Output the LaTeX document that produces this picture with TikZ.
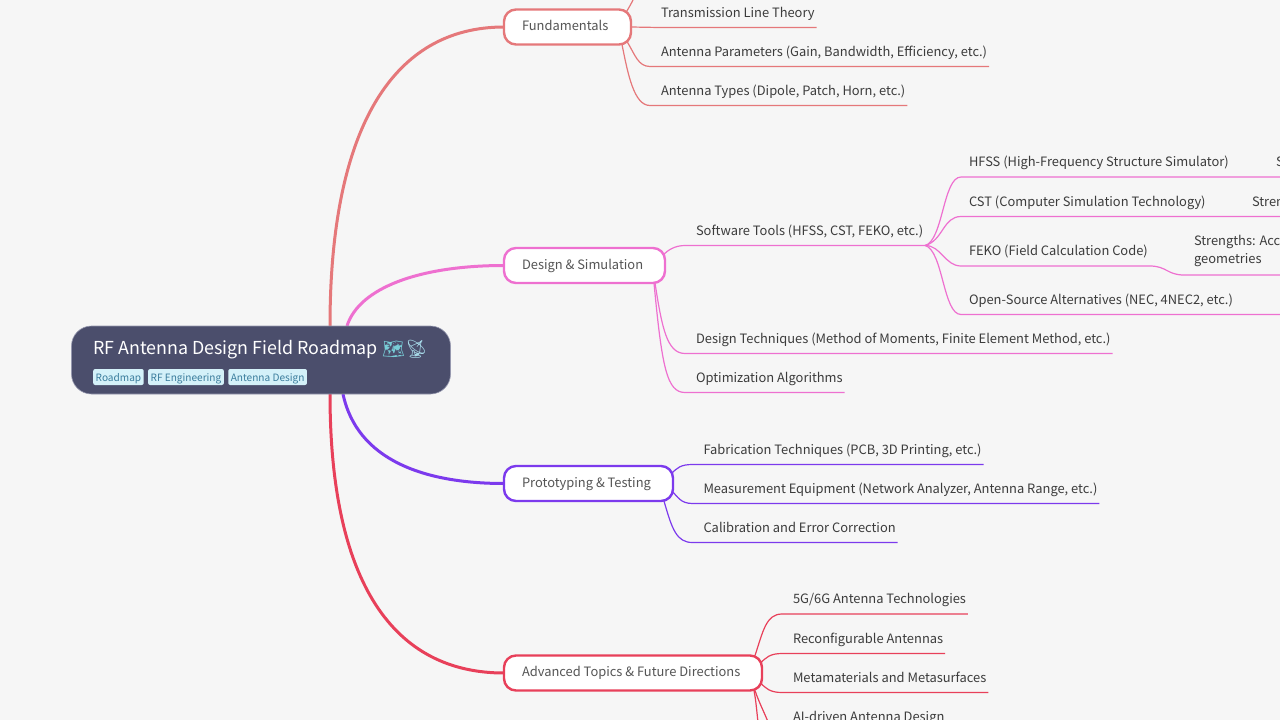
\documentclass[tikz,border=0pt]{standalone}
\usepackage{xcolor}
\usepackage{fontspec}
\setmainfont{Noto Sans CJK SC}
\newfontfamily\emojifont{Noto Emoji}
\usepackage{tikz}
\usetikzlibrary{positioning}
\definecolor{pagecolor}{RGB}{246, 246, 246}
\definecolor{rootcolor}{RGB}{75, 78, 108}
\definecolor{rootedge}{RGB}{150, 152, 175}
\definecolor{tagfill}{RGB}{212, 241, 249}
\definecolor{tagtext}{RGB}{58, 124, 156}
\definecolor{boxtext}{RGB}{85, 85, 85}
\definecolor{leaftext}{RGB}{60, 60, 60}
\definecolor{mapcolor}{RGB}{120, 205, 215}
\definecolor{dishcolor}{RGB}{165, 215, 230}
\definecolor{fundcolor}{RGB}{229, 120, 122}
\definecolor{designcolor}{RGB}{238, 112, 208}
\definecolor{protocolor}{RGB}{124, 58, 237}
\definecolor{futurecolor}{RGB}{232, 64, 90}
\pgfdeclarelayer{links}
\pgfsetlayers{links,main}
\tikzset{
    root box/.style={rectangle, rounded corners=20pt, draw=rootedge, line width=0.6pt, fill=rootcolor, minimum width=379pt, minimum height=68pt, outer sep=0pt},
    root title/.style={anchor=west, inner sep=0pt, text=white, font=\fontsize{17.85}{22}\selectfont},
    tag/.style={rectangle, rounded corners=2pt, fill=tagfill, text=tagtext, inner xsep=2.5pt, inner ysep=0pt, minimum height=16pt, text height=8pt, text depth=0pt, font=\fontsize{10.1}{12}\selectfont},
    topic/.style={rectangle, rounded corners=12pt, fill=white, line width=2.4pt, minimum height=35pt, inner xsep=18pt, inner ysep=0pt, outer sep=0pt, anchor=west, text ragged, execute at begin node={\spaceskip=0pt}, text height=10pt, text depth=3pt, text=boxtext, font=\fontsize{12.9}{17}\selectfont},
    leaf/.style={anchor=south west, inner xsep=2pt, inner ysep=7.4pt, outer sep=0pt, text height=10.5pt, text depth=3pt, text=leaftext, font=\fontsize{12.9}{18}\selectfont},
    fund link/.style={draw=fundcolor, line width=1.2pt},
    design link/.style={draw=designcolor, line width=1.2pt},
    proto link/.style={draw=protocolor, line width=1.2pt},
    future link/.style={draw=futurecolor, line width=1.2pt},
    branch/.style={line width=3pt}
}
\begin{document}
\begin{tikzpicture}[x=1pt, y=-1pt]
    \useasboundingbox (0,0) rectangle (1280,720);
    \begin{pgfonlayer}{links}
        \fill[pagecolor] (0,0) rectangle (1280,720);
    \end{pgfonlayer}

    % Root
    \node[root box] (root) at (261,360) {};
    \node[root title] (title) at (93,350) {RF Antenna Design Field Roadmap};
    \node[anchor=west, inner sep=0pt, font=\emojifont\fontsize{18}{22}\selectfont] (icons) at (382,349) {\textcolor{mapcolor}{\char"1F5FA}\textcolor{dishcolor}{\char"1F4E1}};
    \node[tag, anchor=west] (tag1) at (93,377) {Roadmap};
    \node[tag, right=4pt of tag1] (tag2) {RF Engineering};
    \node[tag, right=4pt of tag2] (tag3) {Antenna Design};

    % Topics
    \node[topic, draw=fundcolor, text width=91pt] (fund) at (504,27) {Fundamentals};
    \node[topic, draw=designcolor, text width=125pt] (design) at (504,265.5) {Design \& Simulation};
    \node[topic, draw=protocolor, text width=133pt] (proto) at (504,483.5) {Prototyping \& Testing};
    \node[topic, draw=futurecolor, text width=222pt] (future) at (504,673) {\mbox{Advanced Topics \& Future Directions}};

    % Fundamentals leaves
    \coordinate (fund0) at (633,0);
    \node[leaf] (fund1) at (659,27.5) {Transmission Line Theory};
    \node[leaf] (fund2) at (659,66.5) {Antenna Parameters (Gain, Bandwidth, Efficiency, etc.)};
    \node[leaf] (fund3) at (659,105.5) {Antenna Types (Dipole, Patch, Horn, etc.)};

    % Design leaves
    \node[leaf] (soft) at (694,245.5) {Software Tools (HFSS, CST, FEKO, etc.)};
    \node[leaf] (tech) at (694,353.5) {Design Techniques (Method of Moments, Finite Element Method, etc.)};
    \node[leaf] (opti) at (694,392.5) {Optimization Algorithms};

    % Software tools
    \node[leaf] (hfss) at (967,177) {HFSS (High-Frequency Structure Simulator)};
    \node[leaf] (cst) at (967,216.5) {CST (Computer Simulation Technology)};
    \node[leaf] (feko) at (967,266) {FEKO (Field Calculation Code)};
    \node[leaf] (open) at (967,314.5) {Open-Source Alternatives (NEC, 4NEC2, etc.)};
    \node[leaf] (hfssnote) at (1274,177) {S};
    \node[leaf] (cstnote) at (1250,216.5) {Stren};
    \node[leaf, align=left, inner ysep=8.5pt] (fekonote) at (1192,275) {Strengths: Acc\\geometries};
    \coordinate (hfssend) at (1280,177);
    \coordinate (cstend) at (1280,216.5);
    \coordinate (fekoend) at (1280,275);
    \coordinate (openend) at (1280,314.5);

    % Prototyping leaves
    \node[leaf] (proto1) at (701.5,464.5) {Fabrication Techniques (PCB, 3D Printing, etc.)};
    \node[leaf] (proto2) at (701.5,503.5) {Measurement Equipment (Network Analyzer, Antenna Range, etc.)};
    \node[leaf] (proto3) at (701.5,542.5) {Calibration and Error Correction};

    % Future leaves
    \node[leaf] (future1) at (791,614) {5G/6G Antenna Technologies};
    \node[leaf] (future2) at (791,653.5) {Reconfigurable Antennas};
    \node[leaf] (future3) at (791,692.5) {Metamaterials and Metasurfaces};
    \node[leaf] (future4) at (791,731.5) {AI-driven Antenna Design};
    \coordinate (future5) at (758,722);
    \coordinate (future6) at (768,722);

    \begin{pgfonlayer}{links}
        % Main branches
        \draw[branch, draw=fundcolor] ([xshift=258.5pt]root.north west) .. controls +(0,-200) and +(-110,0) .. (fund.west);
        \draw[branch, draw=designcolor] ([xshift=275.5pt]root.north west) .. controls +(12,-38) and +(-85,0) .. (design.west);
        \draw[branch, draw=protocolor] ([xshift=271.5pt]root.south west) .. controls +(14,66) and +(-80,0) .. (proto.west);
        \draw[branch, draw=futurecolor] ([xshift=258.5pt]root.south west) .. controls +(0,190) and +(-110,0) .. (future.west);

        % Fundamentals links
        \draw[fund link] ([xshift=-5pt,yshift=-3pt]fund.north east) .. controls +(3,-5) and +(-2,4) .. (fund0);
        \draw[fund link] (fund.east) -- (fund1.south west) -- (fund1.south east);
        \draw[fund link] ([xshift=-4pt,yshift=3pt]fund.south east) .. controls +(8,13) and +(-12,0) .. ([xshift=-9pt]fund2.south west) -- (fund2.south east);
        \draw[fund link] ([xshift=-9pt]fund.south east) .. controls +(6,30) and +(-16,0) .. ([xshift=-9pt]fund3.south west) -- (fund3.south east);

        % Design links
        \draw[design link] ([xshift=-2pt,yshift=-7pt]design.north east) .. controls +(5,-5) and +(-10,0) .. ([xshift=-9pt]soft.south west) -- (soft.south east);
        \draw[design link] ([xshift=-10pt]design.south east) .. controls +(7,45) and +(-18,0) .. ([xshift=-9pt]tech.south west) -- (tech.south east);
        \draw[design link] ([xshift=-11pt]design.south east) .. controls +(8,85) and +(-18,0) .. ([xshift=-9pt]opti.south west) -- (opti.south east);

        % Software tool links
        \draw[design link] (soft.south east) .. controls +(18,-5) and +(-18,0) .. ([xshift=-6pt]hfss.south west) -- (hfss.south east) -- (hfssnote.south west) -- (hfssend);
        \draw[design link] (soft.south east) .. controls +(18,-5) and +(-18,0) .. ([xshift=-6pt]cst.south west) -- (cst.south east) -- (cstnote.south west) -- (cstend);
        \draw[design link] (soft.south east) .. controls +(16,0) and +(-16,0) .. ([xshift=-6pt]feko.south west) -- (feko.south east) .. controls +(17,0) and +(-17,0) .. ([xshift=-8pt]fekonote.south west) -- (fekoend);
        \draw[design link] (soft.south east) .. controls +(18,5) and +(-18,0) .. ([xshift=-6pt]open.south west) -- (openend);

        % Prototyping links
        \draw[proto link] ([xshift=-2pt,yshift=-8pt]proto.north east) .. controls +(6,-6) and +(-12,0) .. ([xshift=-9pt]proto1.south west) -- (proto1.south east);
        \draw[proto link] ([xshift=-2pt,yshift=11pt]proto.south east) .. controls +(7,7) and +(-12,0) .. ([xshift=-9pt]proto2.south west) -- (proto2.south east);
        \draw[proto link] ([xshift=-9pt]proto.south east) .. controls +(8,28) and +(-16,0) .. ([xshift=-9pt]proto3.south west) -- (proto3.south east);

        % Future links
        \draw[future link] ([xshift=-7pt]future.north east) .. controls +(8,-24) and +(-16,0) .. ([xshift=-9pt]future1.south west) -- (future1.south east);
        \draw[future link] ([xshift=-2pt,yshift=-8pt]future.north east) .. controls +(6,-6) and +(-12,0) .. ([xshift=-9pt]future2.south west) -- (future2.south east);
        \draw[future link] ([xshift=-2pt,yshift=8pt]future.south east) .. controls +(6,6) and +(-12,0) .. ([xshift=-9pt]future3.south west) -- (future3.south east);
        \draw[future link] ([xshift=-8pt]future.south east) .. controls +(2,10) and +(-1,-8) .. (future5);
        \draw[future link] ([xshift=-7pt]future.south east) .. controls +(4,12) and +(-3,-8) .. (future6);
    \end{pgfonlayer}
\end{tikzpicture}
\end{document}
